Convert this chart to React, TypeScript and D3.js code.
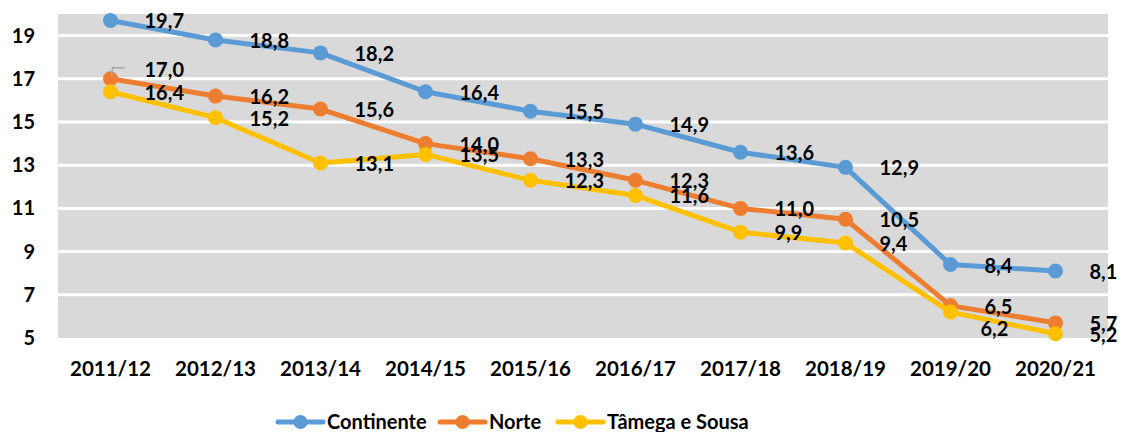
import React from "react"
import { scaleBand, scaleLinear, line } from "d3"

const years = ["2011/12", "2012/13", "2013/14", "2014/15", "2015/16", "2016/17", "2017/18", "2018/19", "2019/20", "2020/21"]
const continente = [19.7, 18.8, 18.2, 16.4, 15.5, 14.9, 13.6, 12.9, 8.4, 8.1]
const norte = [17.0, 16.2, 15.6, 14.0, 13.3, 12.3, 11.0, 10.5, 6.5, 5.7]
const tamega = [16.4, 15.2, 13.1, 13.5, 12.3, 11.6, 9.9, 9.4, 6.2, 5.2]
const yTicks = [5, 7, 9, 11, 13, 15, 17, 19]

const series = [
  { name: "Continente", values: continente, color: "#5B9BD5" },
  { name: "Norte", values: norte, color: "#ED7D31" },
  { name: "Tâmega e Sousa", values: tamega, color: "#FFC000" },
]

// labels moved by hand in the original chart
const labelShift: Record<string, [number, number]> = {
  "Norte-0": [0, -10],
  "Tâmega e Sousa-8": [-4, 16],
}

const App = () => {
  const width = 1123
  const height = 432
  const margin = { top: 14, right: 15, bottom: 94, left: 58 }
  const innerWidth = width - margin.left - margin.right
  const innerHeight = height - margin.top - margin.bottom
  const font = "Lato, 'Open Sans', sans-serif"

  const xScale = scaleBand().domain(years).range([0, innerWidth])
  const yScale = scaleLinear().domain([5, 20]).range([innerHeight, 0])
  const cx = (i: number) => xScale(years[i])! + xScale.bandwidth() / 2

  const path = line<number>()
    .x((d, i) => cx(i))
    .y((d) => yScale(d))

  const legendX = [278, 440, 558]

  return (
    <svg width={width} height={height} style={{ position: "absolute", left: 0, top: 0 }} fontFamily={font} fontWeight="bold">
      <g transform={`translate(${margin.left}, ${margin.top})`}>
        <rect width={innerWidth} height={innerHeight} fill="#D9D9D9" />
        {yTicks.filter((t) => t > 5).map((t) => (
          <line key={t} x1={0} x2={innerWidth} y1={yScale(t)} y2={yScale(t)} stroke="#fff" strokeWidth={3} />
        ))}
        {yTicks.map((t) => (
          <text key={t} x={-23} y={yScale(t)} dy="0.35em" textAnchor="end" fontSize={20} fill="#000">
            {t}
          </text>
        ))}
        {years.map((y, i) => (
          <text key={y} x={cx(i)} y={innerHeight + 31} dy="0.35em" textAnchor="middle" fontSize={20.5} fill="#000">
            {y}
          </text>
        ))}
        {series.map((s) => (
          <g key={s.name}>
            <path d={path(s.values)!} fill="none" stroke={s.color} strokeWidth={5} strokeLinejoin="round" />
            {s.values.map((v, i) => (
              <circle key={i} cx={cx(i)} cy={yScale(v)} r={7.5} fill={s.color} />
            ))}
          </g>
        ))}
        <polyline
          points={`${cx(0) + 1},${yScale(17) - 2} ${cx(0) + 2},${yScale(17) - 11} ${cx(0) + 14},${yScale(17) - 11}`}
          fill="none"
          stroke="#A6A6A6"
          strokeWidth={1.5}
        />
        {series.map((s) =>
          s.values.map((v, i) => {
            const [dx, dy] = labelShift[`${s.name}-${i}`] || [0, 0]
            return (
              <text key={`${s.name}-${i}`} x={cx(i) + 34 + dx} y={yScale(v) + 1 + dy} dy="0.35em" fontSize={20} fill="#000">
                {v.toFixed(1).replace(".", ",")}
              </text>
            )
          })
        )}
      </g>
      {series.map((s, i) => (
        <g key={s.name} transform={`translate(${legendX[i]}, 422)`}>
          <line x1={0} x2={45} stroke={s.color} strokeWidth={5} strokeLinecap="round" />
          <circle cx={22.5} cy={0} r={7} fill={s.color} />
          <text x={49} dy="0.35em" fontSize={20} fill="#000">
            {s.name}
          </text>
        </g>
      ))}
    </svg>
  )
}

export default App
